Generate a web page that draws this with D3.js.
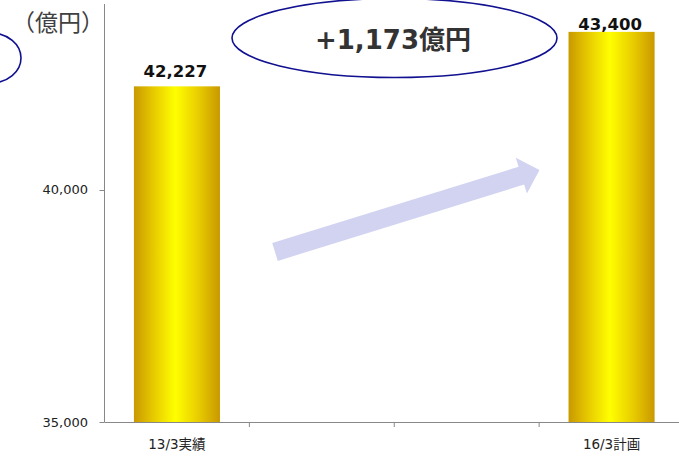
<!DOCTYPE html>
<html>
<head>
<meta charset="utf-8">
<script src="https://cdn.jsdelivr.net/npm/d3@7"></script>
<style>
  body { margin: 0; background: #fff; }
  text { font-family: "DejaVu Sans", "Noto Sans CJK JP", sans-serif; }
</style>
</head>
<body>
<div id="chart"></div>
<script>
// data
var categories = ["13/3", "14/3", "15/3", "16/3"];
var tickLabels = ["13/3実績", "", "", "16/3計画"];
var values = [42227, null, null, 43400];
var yTicks = [35000, 40000];
var yDomain = [35000, 44000];
var unitLabel = "（億円）";
var diffLabel = "+1,173億円";

var W = 679, H = 457;
var plot = {left: 104.5, right: 684, top: 4, bottom: 422};
var axisColor = "#888";

var svg = d3.select("#chart")
  .append("svg")
    .attr("width", W)
    .attr("height", H);

// gold gradient for bars
var grad = svg.append("defs").append("linearGradient")
    .attr("id", "gold")
    .attr("x1", "0%").attr("x2", "100%")
    .attr("y1", "0%").attr("y2", "0%");
grad.append("stop").attr("offset", "0%").attr("stop-color", "#c99800");
grad.append("stop").attr("offset", "22%").attr("stop-color", "#e6c800");
grad.append("stop").attr("offset", "48%").attr("stop-color", "#ffff00");
grad.append("stop").attr("offset", "75%").attr("stop-color", "#e8cc00");
grad.append("stop").attr("offset", "100%").attr("stop-color", "#c99800");

// scales
var x = d3.scaleBand()
  .domain(categories)
  .range([plot.left, plot.right])
  .paddingInner(0.406)
  .paddingOuter(0.203);

var y = d3.scaleLinear()
  .domain(yDomain)
  .range([plot.bottom, plot.top]);

// y axis
svg.append("line")
  .attr("x1", plot.left).attr("x2", plot.left)
  .attr("y1", plot.top).attr("y2", plot.bottom)
  .attr("stroke", axisColor);

svg.selectAll(".ytick")
  .data(yTicks)
  .enter().append("line")
    .attr("x1", plot.left - 5).attr("x2", plot.left)
    .attr("y1", function(d) { return Math.round(y(d)) + 0.5; })
    .attr("y2", function(d) { return Math.round(y(d)) + 0.5; })
    .attr("stroke", axisColor);

svg.selectAll(".ylab")
  .data(yTicks)
  .enter().append("text")
    .attr("x", 88)
    .attr("y", function(d) { return y(d); })
    .attr("dy", "0.36em")
    .attr("text-anchor", "end")
    .style("font-size", "13px")
    .style("fill", "#222")
    .text(function(d) { return d3.format(",")(d); });

// x axis
svg.append("line")
  .attr("x1", plot.left).attr("x2", W)
  .attr("y1", plot.bottom + 0.5).attr("y2", plot.bottom + 0.5)
  .attr("stroke", axisColor);

// ticks between categories
var step = x.step();
svg.selectAll(".xtick")
  .data(categories)
  .enter().append("line")
    .attr("x1", function(d) { return x(d) - x.paddingOuter() * step + step; })
    .attr("x2", function(d) { return x(d) - x.paddingOuter() * step + step; })
    .attr("y1", plot.bottom)
    .attr("y2", plot.bottom + 5)
    .attr("stroke", axisColor);

svg.selectAll(".xlab")
  .data(categories)
  .enter().append("text")
    .attr("x", function(d) { return x(d) + x.bandwidth() / 2; })
    .attr("y", 449)
    .attr("text-anchor", "middle")
    .style("font-size", "13.5px")
    .style("fill", "#222")
    .text(function(d, i) { return tickLabels[i]; });

// bars
var barData = categories.map(function(c, i) { return {cat: c, value: values[i]}; })
  .filter(function(d) { return d.value != null; });

svg.selectAll(".bar")
  .data(barData)
  .enter().append("rect")
    .attr("x", function(d) { return x(d.cat); })
    .attr("y", function(d) { return y(d.value); })
    .attr("width", x.bandwidth())
    .attr("height", function(d) { return plot.bottom - y(d.value); })
    .attr("fill", "url(#gold)");

// value labels
svg.selectAll(".val")
  .data(barData)
  .enter().append("text")
    .attr("x", function(d) { return x(d.cat) + x.bandwidth() / 2 - 1.5; })
    .attr("y", function(d) { return Math.max(y(d.value) - 9.5, 30); })
    .attr("text-anchor", "middle")
    .style("font-size", "16.5px")
    .style("font-weight", "bold")
    .style("fill", "#111")
    .text(function(d) { return d3.format(",")(d.value); });

// unit label
svg.append("text")
  .attr("x", 58)
  .attr("y", 31)
  .attr("text-anchor", "middle")
  .style("font-family", "'Noto Sans CJK JP', sans-serif")
  .style("font-size", "23px")
  .style("fill", "#404040")
  .text(unitLabel);

// arrow
var tail = [275, 252], tip = [539.5, 170];
var len = Math.hypot(tip[0] - tail[0], tip[1] - tail[1]);
var ang = Math.atan2(tip[1] - tail[1], tip[0] - tail[0]) * 180 / Math.PI;
var sw = 9.3, hw = 18.8, hl = 19;
svg.append("path")
  .attr("transform", "translate(" + tail[0] + "," + tail[1] + ") rotate(" + ang + ")")
  .attr("d", d3.line()([
    [0, -sw], [len - hl, -sw], [len - hl, -hw], [len, 0],
    [len - hl, hw], [len - hl, sw], [0, sw]
  ]) + "Z")
  .attr("fill", "#d1d3f1");

// ellipses
svg.append("ellipse")
  .attr("cx", -9).attr("cy", 58)
  .attr("rx", 30).attr("ry", 25)
  .attr("fill", "none")
  .attr("stroke", "#101090")
  .attr("stroke-width", 1.6);

svg.append("ellipse")
  .attr("cx", 394.5).attr("cy", 38)
  .attr("rx", 162.5).attr("ry", 39.5)
  .attr("fill", "#fff")
  .attr("stroke", "#101090")
  .attr("stroke-width", 1.6);

svg.append("text")
  .attr("x", 393)
  .attr("y", 49)
  .attr("text-anchor", "middle")
  .style("font-size", "26px")
  .style("font-weight", "bold")
  .style("fill", "#333")
  .text(diffLabel);
</script>
</body>
</html>
